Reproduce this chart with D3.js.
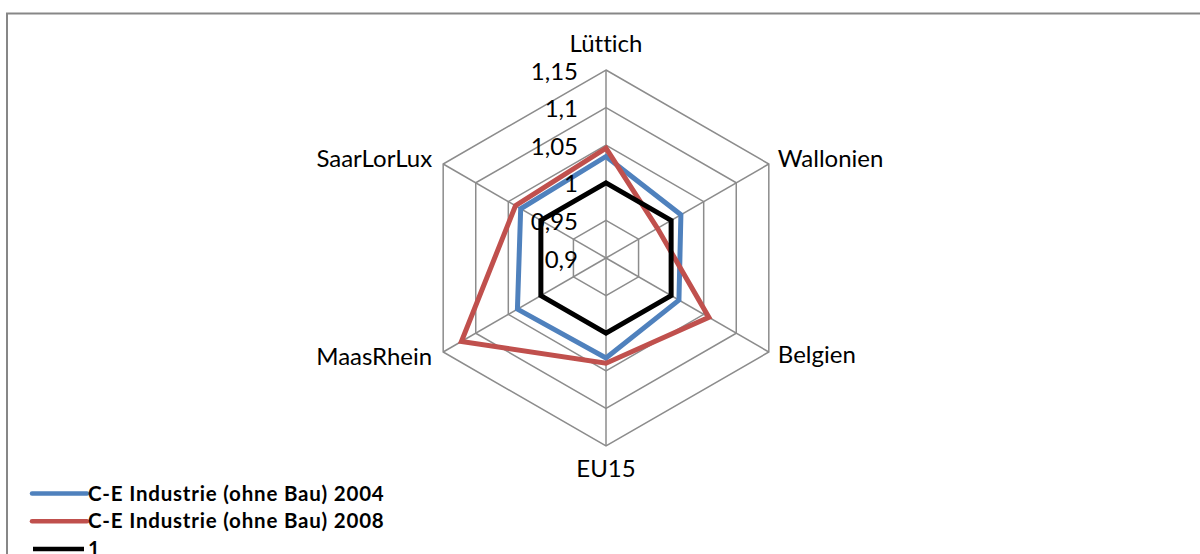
<!DOCTYPE html>
<html>
<head>
<meta charset="utf-8">
<script src="https://cdn.jsdelivr.net/npm/d3@7"></script>
<style>
  html, body { margin: 0; padding: 0; background: #fff; }
  svg { display: block; }
  text { font-family: Lato, "Open Sans", sans-serif; fill: #000; font-variant-ligatures: none; font-feature-settings: "liga" 0; }
</style>
</head>
<body>
<svg id="chart" width="1200" height="554"></svg>
<script>
const categories = ["Lüttich", "Wallonien", "Belgien", "EU15", "MaasRhein", "SaarLorLux"];
const series2004 = [1.035, 1.015, 1.012, 1.033, 1.036, 1.031];
const series2008 = [1.046, 0.979, 1.058, 1.040, 1.122, 1.039];
const seriesOne = [1, 1, 1, 1, 1, 1];
const tickValues = [0.9, 0.95, 1, 1.05, 1.1, 1.15];
const tickLabels = ["0,9", "0,95", "1", "1,05", "1,1", "1,15"];
const seriesNames = ["C-E Industrie (ohne Bau) 2004", "C-E Industrie (ohne Bau) 2008", "1"];

const svg = d3.select("#chart");
const cx = 606, cy = 258, R = 188;
const r = d3.scaleLinear().domain([0.9, 1.15]).range([0, R]);
const angle = d3.scaleLinear().domain([0, categories.length]).range([0, 2 * Math.PI]);
const pt = (i, v) => [cx + r(v) * Math.sin(angle(i)), cy - r(v) * Math.cos(angle(i))];

// outer chart border
svg.append("path")
  .attr("d", "M7,560 L7,13.5 L1210,13.5")
  .attr("fill", "none").attr("stroke", "#878787").attr("stroke-width", 2);

const grid = svg.append("g");
tickValues.slice(1).forEach(t => {
  grid.append("polygon")
    .attr("points", categories.map((c, i) => pt(i, t).join(",")).join(" "))
    .attr("fill", "none").attr("stroke", "#8c8c8c").attr("stroke-width", 1.5);
});
categories.forEach((c, i) => {
  const [x, y] = pt(i, tickValues[tickValues.length - 1]);
  grid.append("line").attr("x1", cx).attr("y1", cy).attr("x2", x).attr("y2", y)
    .attr("stroke", "#8c8c8c").attr("stroke-width", 1.5);
});

const line = d3.line().curve(d3.curveLinearClosed);
const seriesDefs = [
  { vals: series2004, color: "#4F81BD" },
  { vals: series2008, color: "#C0504D" },
  { vals: seriesOne, color: "#000000" }
];
seriesDefs.forEach(s => {
  svg.append("path")
    .attr("d", line(s.vals.map((v, i) => pt(i, v))))
    .attr("fill", "none").attr("stroke", s.color).attr("stroke-width", 5)
    .attr("stroke-linejoin", "miter");
});

tickValues.forEach((t, k) => {
  svg.append("text")
    .attr("x", cx - 28).attr("y", cy - r(t) + 9.5)
    .attr("text-anchor", "end").attr("font-size", 24)
    .text(tickLabels[k]);
});

const labelPos = [
  { dx: 0, dy: -18, anchor: "middle" },
  { dx: 9, dy: 3, anchor: "start" },
  { dx: 9, dy: 11, anchor: "start" },
  { dx: 0, dy: 31, anchor: "middle" },
  { dx: -11, dy: 13, anchor: "end" },
  { dx: -11, dy: 3, anchor: "end" }
];
categories.forEach((c, i) => {
  const [x, y] = pt(i, 1.15);
  svg.append("text")
    .attr("x", x + labelPos[i].dx).attr("y", y + labelPos[i].dy)
    .attr("text-anchor", labelPos[i].anchor).attr("font-size", 24)
    .text(c);
});

const legend = svg.append("g");
seriesNames.forEach((n, k) => {
  const y = 493.5 + k * 27.8;
  legend.append("line").attr("x1", k === 2 ? 33 : 32).attr("x2", k === 2 ? 84 : 87)
    .attr("y1", y).attr("y2", y)
    .attr("stroke", seriesDefs[k].color).attr("stroke-width", 4.5)
    .attr("stroke-linecap", k === 2 ? "butt" : "round");
  legend.append("text").attr("x", 88).attr("y", y + 7)
    .attr("font-size", 20.5).attr("font-weight", "bold")
    .attr("letter-spacing", 0.8)
    .text(n);
});
</script>
</body>
</html>
